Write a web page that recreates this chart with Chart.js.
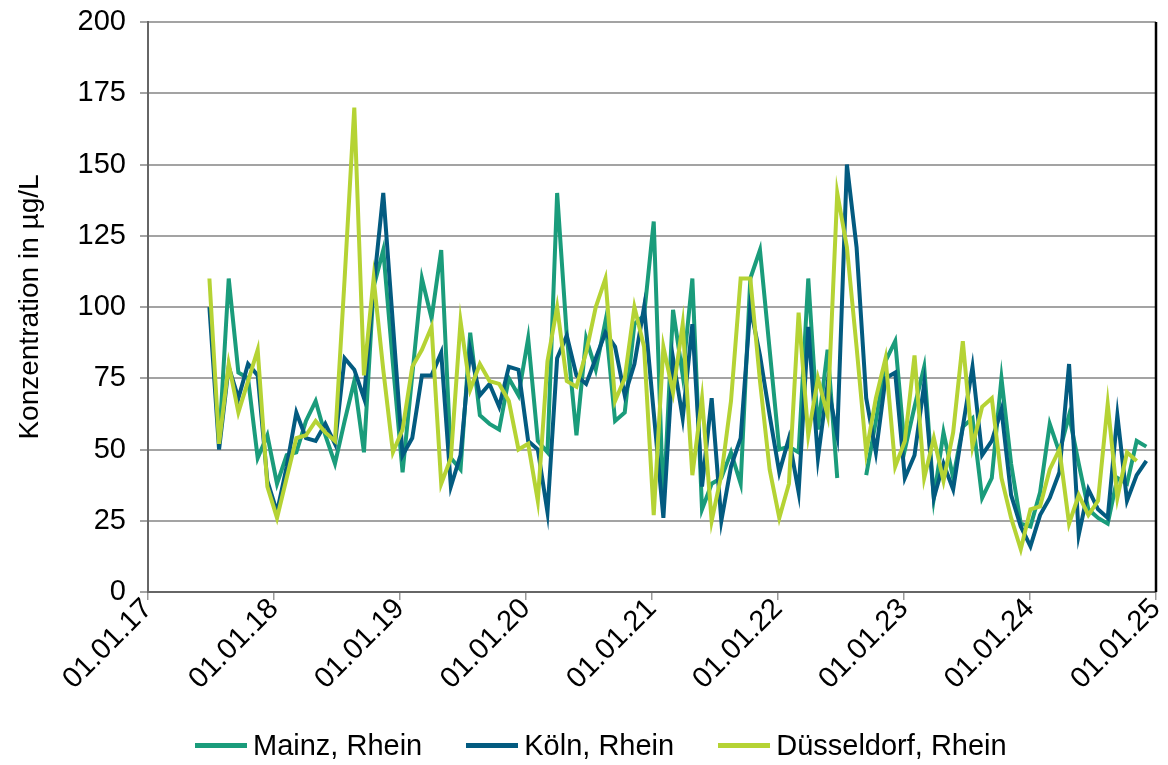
<!DOCTYPE html>
<html>
<head>
<meta charset="utf-8">
<script src="https://cdn.jsdelivr.net/npm/chart.js@4/dist/chart.umd.min.js"></script>
<style>
  html, body { margin: 0; padding: 0; background: #fff; }
  #wrap { position: relative; width: 1168px; height: 765px; }
  #wrap canvas { position: absolute; left: 0; top: 0; }
  .key {
    position: absolute; left: 195px; top: 727px;
    display: flex; align-items: center;
    font-family: 'Liberation Sans', Arial, sans-serif; font-size: 29px; line-height: 36px; color: #000;
  }
  .key .item { display: flex; align-items: center; margin-right: 44px; white-space: nowrap; }
  .key .swatch { width: 52px; height: 5px; margin-right: 6px; }
</style>
</head>
<body>
<div id="wrap">
  <canvas id="chart" width="1168" height="765"></canvas>
  <div class="key" id="key"></div>
</div>
<script>
// sampling dates (every 4 weeks)
const dates = [
  '2017-06-28','2017-07-26','2017-08-23','2017-09-20','2017-10-18','2017-11-15','2017-12-13',
  '2018-01-10','2018-02-07','2018-03-07','2018-04-04','2018-05-02','2018-05-30','2018-06-27',
  '2018-07-25','2018-08-22','2018-09-19','2018-10-17','2018-11-14','2018-12-12',
  '2019-01-09','2019-02-06','2019-03-06','2019-04-03','2019-05-01','2019-05-29','2019-06-26',
  '2019-07-24','2019-08-21','2019-09-18','2019-10-16','2019-11-13','2019-12-11',
  '2020-01-08','2020-02-05','2020-03-04','2020-04-01','2020-04-29','2020-05-27','2020-06-24',
  '2020-07-22','2020-08-19','2020-09-16','2020-10-14','2020-11-11','2020-12-09',
  '2021-01-06','2021-02-03','2021-03-03','2021-03-31','2021-04-28','2021-05-26','2021-06-23',
  '2021-07-21','2021-08-18','2021-09-15','2021-10-13','2021-11-10','2021-12-08',
  '2022-01-05','2022-02-02','2022-03-02','2022-03-30','2022-04-27','2022-05-25','2022-06-22',
  '2022-07-20','2022-08-17','2022-09-14','2022-10-12','2022-11-09','2022-12-07',
  '2023-01-04','2023-02-01','2023-03-01','2023-03-29','2023-04-26','2023-05-24','2023-06-21',
  '2023-07-19','2023-08-16','2023-09-13','2023-10-11','2023-11-08','2023-12-06',
  '2024-01-03','2024-01-31','2024-02-28','2024-03-27','2024-04-24','2024-05-22','2024-06-19',
  '2024-07-17','2024-08-14','2024-09-11','2024-10-09','2024-11-06','2024-12-04'
];

const mainz = [
  null, 52, 110, 77, 75, 47, 55, 38, 48, 49, 60, 67, 55, 45, 60, 74, 49, 107, 120, 80,
  42, 76, 110, 96, 120, 47, 43, 91, 62, 59, 57, 75, 69, 89, 53, 49, 140, 90, 55, 89,
  78, 95, 60, 63, 94, 97, 130, 30, 99, 76, 110, 29, 38, 40, 49, 38, 110, 120, 85, 50,
  51, 49, 110, 57, 85, 40, null, null, 41, 60, 81, 88, 50, 65, 79, 33, 56, 40, 58, 61,
  33, 40, 75, 45, 24, 23, 35, 59, 49, 62, 45, 29, 26, 24, 40, 38, 53, 51
];

const koeln = [
  100, 50, 79, 68, 80, 76, 39, 28, 44, 63, 54, 53, 59, 52, 82, 78, 68, 107, 140, 94,
  48, 54, 76, 76, 84, 37, 48, 85, 69, 73, 65, 79, 78, 53, 50, 28, 82, 90, 76, 73,
  82, 91, 86, 69, 80, 100, 63, 26, 82, 61, 94, 37, 68, 25, 44, 54, 100, 83, 62, 42,
  54, 35, 93, 47, 73, 55, 150, 121, 68, 49, 75, 77, 40, 48, 73, 33, 45, 36, 58, 79,
  48, 53, 64, 34, 23, 16, 27, 33, 42, 80, 20, 36, 29, 26, 62, 32, 41, 46
];

const duesseldorf = [
  110, 52, 80, 63, 74, 85, 37, 26, 40, 54, 55, 60, 56, 53, 110, 170, 76, 110, 78, 49,
  57, 79, 85, 93, 38, 47, 95, 71, 80, 74, 73, 67, 50, 52, 32, 81, 100, 74, 72, 84,
  100, 110, 67, 75, 100, 86, 27, 86, 70, 94, 41, 68, 25, 41, 67, 110, 110, 74, 43, 26,
  38, 98, 55, 75, 62, 140, 121, 86, 49, 68, 82, 44, 53, 83, 40, 54, 39, 56, 88, 51,
  65, 68, 40, 26, 15, 29, 30, 43, 50, 24, 34, 27, 32, 66, 33, 49, 46, null
];

const yearTicks = ['2017-01-01','2018-01-01','2019-01-01','2020-01-01','2021-01-01',
  '2022-01-01','2023-01-01','2024-01-01','2025-01-01'];

const FONT = 'Liberation Sans, Arial, sans-serif';

function points(values) {
  return dates.map((d, i) => ({ x: Date.parse(d), y: values[i] }));
}

function series(label, values, color, order) {
  return {
    label,
    data: points(values),
    borderColor: color,
    backgroundColor: color,
    borderWidth: 4,
    pointRadius: 0,
    tension: 0,
    fill: false,
    spanGaps: false,
    order,
  };
}

function addLegendToKey(key, datasets) {
  datasets.forEach((ds) => {
    const item = document.createElement('div');
    item.classList.add('item');
    const sw = document.createElement('span');
    sw.classList.add('swatch');
    sw.style.background = ds.borderColor;
    const txt = document.createElement('span');
    txt.textContent = ds.label;
    item.append(sw, txt);
    key.append(item);
  });
}

// right frame line of the plot area
const frame = {
  id: 'frame',
  afterDraw(chart) {
    const { ctx, chartArea } = chart;
    ctx.save();
    ctx.strokeStyle = '#000';
    ctx.lineWidth = 2.5;
    ctx.beginPath();
    ctx.moveTo(chartArea.right, chartArea.top);
    ctx.lineTo(chartArea.right, chartArea.bottom);
    ctx.stroke();
    ctx.restore();
  },
};

const datasets = [
  series('Mainz, Rhein', mainz, '#1a9c7b', 3),
  series('Köln, Rhein', koeln, '#035b80', 2),
  series('Düsseldorf, Rhein', duesseldorf, '#b5d334', 1),
];

addLegendToKey(document.getElementById('key'), datasets);

new Chart(document.getElementById('chart'), {
  type: 'line',
  data: { datasets },
  plugins: [frame],
  options: {
    responsive: false,
    animation: false,
    layout: { padding: { top: 22, right: 12, bottom: 74, left: 0 } },
    scales: {
      x: {
        type: 'linear',
        min: Date.parse(yearTicks[0]),
        max: Date.parse(yearTicks[yearTicks.length - 1]),
        afterBuildTicks: (scale) => {
          scale.ticks = yearTicks.map((t) => ({ value: Date.parse(t) }));
        },
        afterFit: (scale) => {
          scale.height = 99;
          scale.paddingLeft = 0;
          scale.paddingRight = 0;
        },
        grid: { drawOnChartArea: false, drawTicks: true, tickLength: 8, color: '#999', lineWidth: 1.5 },
        border: { color: '#666', width: 2 },
        ticks: {
          autoSkip: false,
          minRotation: 45,
          maxRotation: 45,
          padding: -8,
          color: '#000',
          font: { family: FONT, size: 29 },
          callback: (v) => '01.01.' + String(new Date(v).getUTCFullYear()).slice(2),
        },
      },
      y: {
        min: 0,
        max: 200,
        afterFit: (scale) => {
          scale.width = 148;
          scale.paddingTop = 0;
          scale.paddingBottom = 0;
        },
        grid: { color: '#a3a3a3', lineWidth: 2, tickLength: 8 },
        border: { color: '#666', width: 2 },
        ticks: {
          stepSize: 25,
          padding: 14,
          color: '#000',
          font: { family: FONT, size: 29 },
        },
        title: {
          display: true,
          text: 'Konzentration in µg/L',
          color: '#000',
          padding: { top: 13, bottom: 0 },
          font: { family: FONT, size: 28 },
        },
      },
    },
    plugins: {
      legend: { display: false },
      tooltip: { enabled: false },
    },
  },
});
</script>
</body>
</html>
